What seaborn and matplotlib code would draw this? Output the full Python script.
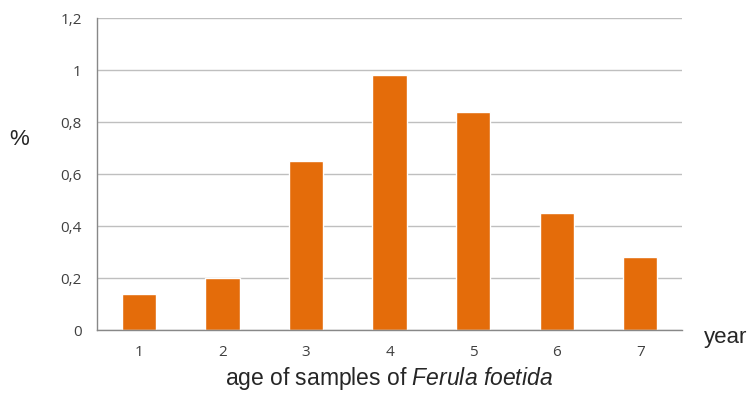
import numpy as np
import pandas as pd
import matplotlib
matplotlib.use('Agg')
import matplotlib.pyplot as plt
import seaborn as sns

ages = ['1', '2', '3', '4', '5', '6', '7']
percent = [0.14, 0.20, 0.65, 0.98, 0.84, 0.45, 0.28]
yticks = [0, 0.2, 0.4, 0.6, 0.8, 1.0, 1.2]
ytick_labels = ['0', '0,2', '0,4', '0,6', '0,8', '1', '1,2']

sns.set_style('white')
plt.rcParams['font.family'] = ['Open Sans', 'DejaVu Sans']
plt.rcParams['mathtext.fontset'] = 'custom'
plt.rcParams['mathtext.rm'] = 'Liberation Sans'
plt.rcParams['mathtext.it'] = 'Liberation Sans:italic'

df = pd.DataFrame({'age': ages, 'pct': percent})

fig = plt.figure(figsize=(7.48, 3.94), dpi=100)
ax = fig.add_axes([0.1297, 0.1624, 0.7821, 0.7919])
sns.barplot(data=df, x='age', y='pct', color='#E46C0A', saturation=1, width=0.41, ax=ax)

ax.set_ylim(0, 1.2)
ax.set_xlim(-0.5, 6.5)
ax.set_yticks(yticks)
ax.set_yticklabels(ytick_labels, fontsize=11, color='#404040')
ax.yaxis.grid(True, color='#BFBFBF', linewidth=1)
ax.set_axisbelow(True)
ax.tick_params(axis='y', length=5, color='#888888', pad=6)
ax.tick_params(axis='x', which='major', length=0, labelsize=11, labelcolor='#404040', pad=11)
ax.set_xticks(np.arange(-0.5, 7, 1), minor=True)
ax.tick_params(axis='x', which='minor', length=6, color='#888888', direction='out')

for s in ['top', 'right']:
    ax.spines[s].set_visible(False)
for s in ['left', 'bottom']:
    ax.spines[s].set_color('#888888')
    ax.spines[s].set_linewidth(1)

ax.set_xlabel('')
ax.set_ylabel('')
fig.text(0.013, 0.645, '%', fontsize=16, fontfamily='Liberation Sans', va='center', ha='left')
fig.text(0.941, 0.143, 'year', fontsize=16, fontfamily='Liberation Sans', va='center', ha='left')
fig.text(0.52, 0.04, 'age of samples of $\\it{Ferula\\ foetida}$', fontsize=16.5,
         fontfamily='Liberation Sans', va='center', ha='center')

plt.savefig('out.png', dpi=100)
